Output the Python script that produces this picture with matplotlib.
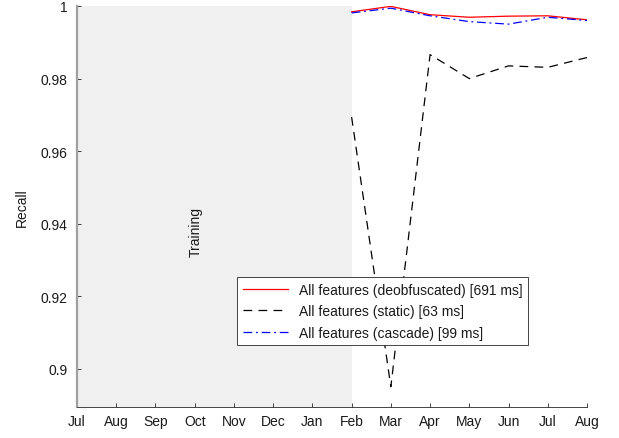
import matplotlib
matplotlib.use("Agg")
import matplotlib.pyplot as plt

plt.rcParams['font.family'] = ['Liberation Sans', 'DejaVu Sans']

months = ["Jul", "Aug", "Sep", "Oct", "Nov", "Dec", "Jan", "Feb", "Mar", "Apr", "May", "Jun", "Jul", "Aug"]
test_idx = [7, 8, 9, 10, 11, 12, 13]
deobf = [0.9984, 0.9999, 0.9976, 0.9969, 0.9972, 0.9973, 0.9962]
static = [0.9694, 0.8951, 0.9866, 0.9800, 0.9835, 0.9831, 0.9858]
cascade = [0.9981, 0.9994, 0.9973, 0.9957, 0.9950, 0.9969, 0.9960]
train_start, train_end = 0, 7

W, H = 619, 439
FS = 10
fig = plt.figure(figsize=(W / 100, H / 100), dpi=100)
ax = fig.add_axes([77 / W, (H - 408) / H, (587 - 77) / W, (408 - 7) / H])

ax.axvspan(train_start, train_end, color='#f0f0f0', zorder=0, lw=0)
ax.text(3.03, 0.938, "Training", rotation=90,
        ha='center', va='center', fontsize=FS, color='#1a1a1a')

ax.plot(test_idx, deobf, color='red', lw=0.9, label="All features (deobfuscated) [691 ms]")
ax.plot(test_idx, static, color='black', lw=0.9, ls=(0, (7, 5)), label="All features (static) [63 ms]")
ax.plot(test_idx, cascade, color='blue', lw=0.9, ls=(0, (7, 3, 1.5, 3)), label="All features (cascade) [99 ms]")

ax.set_xlim(0, 13)
ax.set_ylim(0.8895, 1.0)
ax.set_xticks(range(len(months)))
ax.set_xticklabels(months)
ax.set_yticks([0.9, 0.92, 0.94, 0.96, 0.98, 1.0])
ax.set_yticklabels(["0.9", "0.92", "0.94", "0.96", "0.98", "1"])
ax.set_ylabel("Recall", fontsize=FS, color='#1a1a1a')
ax.yaxis.set_label_coords((29 - 77) / (587 - 77), 0.5)
ax.tick_params(axis='both', labelsize=FS, direction='in', length=3, width=0.6,
               colors='#262626', labelcolor='#1a1a1a')
ax.tick_params(axis='y', pad=7)
ax.tick_params(axis='x', pad=5)

for s in ['top', 'right']:
    ax.spines[s].set_visible(False)
ax.spines['left'].set_color('#a0a0a0')
ax.spines['left'].set_linewidth(1.6)
ax.spines['bottom'].set_color('#262626')
ax.spines['bottom'].set_linewidth(0.6)

leg = ax.legend(loc='upper left', bbox_to_anchor=((237 - 77) / (587 - 77), (408 - 278) / (408 - 7)),
                fontsize=FS, frameon=True, fancybox=False, edgecolor='#262626',
                framealpha=1, handlelength=3.3, borderpad=0.4, labelspacing=0.55,
                handletextpad=0.75, borderaxespad=0)
leg.get_frame().set_linewidth(0.6)
for t in leg.get_texts():
    t.set_color('#1a1a1a')

fig.savefig("out.png", dpi=100)
